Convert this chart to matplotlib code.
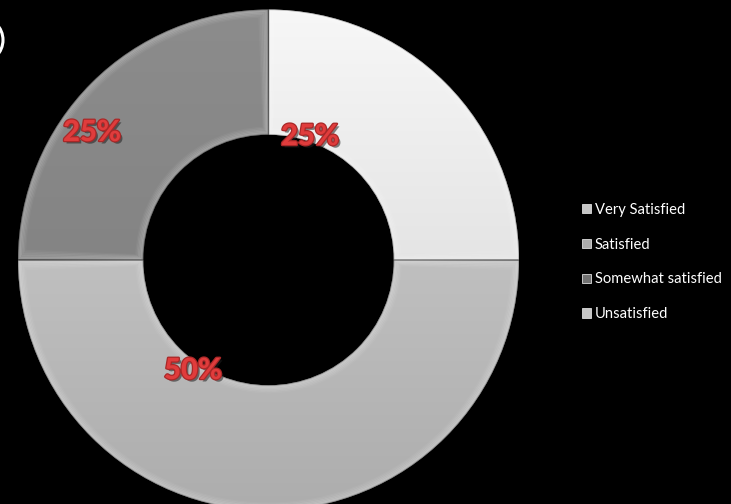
import numpy as np
import matplotlib.pyplot as plt
import matplotlib.patheffects as pe
from matplotlib.patches import Patch, Wedge, Circle
from matplotlib.colors import LinearSegmentedColormap

# Survey results
categories = ["Very Satisfied", "Satisfied", "Somewhat satisfied", "Unsatisfied"]
shares = [25, 50, 25, 0]

# Slice shading: (top colour, bottom colour) of the vertical gradient
slice_shades = [("#f7f7f7", "#d2d2d2"),
                ("#d2d2d2", "#adadad"),
                ("#8c8c8c", "#7c7c7c"),
                ("#d6d6d6", "#b8b8b8")]
legend_colors = ["#c6c6c6", "#ababab", "#727272", "#c6c6c6"]

W, H = 731, 504
fig = plt.figure(figsize=(W / 100, H / 100), dpi=100, facecolor="black")
ax = fig.add_axes([0, 0, 1, 1])
ax.set_facecolor("black")

cx, cy, R = 268.5, 244.0, 250.5
ring = R * 0.5

wedges, _ = ax.pie(shares, colors=[s[0] for s in slice_shades], startangle=90,
                   counterclock=False, center=(cx, cy), radius=R,
                   wedgeprops=dict(width=ring, edgecolor="none"))

ax.set_xlim(0, W)
ax.set_ylim(0, H)
ax.set_aspect("equal")
ax.axis("off")

# Vertical gradient clipped to each slice, plus a soft bevel rim
grad = np.linspace(0, 1, 256).reshape(-1, 1)
for w, (top, bottom), v in zip(wedges, slice_shades, shares):
    if v <= 0:
        continue
    cmap = LinearSegmentedColormap.from_list("s", [bottom, top])
    im = ax.imshow(grad, extent=(cx - R, cx + R, cy - R, cy + R), origin="lower",
                   cmap=cmap, aspect="auto", zorder=2, interpolation="bilinear")
    im.set_clip_path(w)
    # darker outer edge
    ax.add_patch(Wedge((cx, cy), R, w.theta1, w.theta2, width=ring,
                       facecolor="none", edgecolor="#000000", alpha=0.3,
                       lw=1.0, zorder=3))
    # soft light bevel made of fading inset outlines
    for k in range(5):
        inset = 1.5 + 1.4 * k
        dth = np.degrees(inset / (R - ring / 2))
        ax.add_patch(Wedge((cx, cy), R - inset, w.theta1 + dth, w.theta2 - dth,
                           width=ring - 2 * inset, facecolor="none",
                           edgecolor="white", alpha=0.16 - 0.03 * k,
                           lw=1.5, zorder=3))

# Percentage labels
label_xy = [(310, 504 - 137), (193, 504 - 371), (92, 504 - 133)]
total = sum(shares)
effects = [pe.SimplePatchShadow(offset=(1.8, -1.8), shadow_rgbFace="#202020", alpha=0.55),
           pe.Stroke(linewidth=1.8, foreground="#a82828"),
           pe.Normal()]
for (x, y), v in zip(label_xy, shares):
    ax.text(x, y, f"{v / total * 100:.0f}%", ha="center", va="center",
            fontsize=21, fontfamily="Lato", fontweight="black",
            color="#e03c3c", zorder=5, path_effects=effects)

# Small ring fragment in the corner
ax.add_patch(Circle((-20, 504 - 40), 23, fill=False, edgecolor="white", lw=2.2, zorder=4))

handles = [Patch(facecolor=c, edgecolor="#dddddd", linewidth=0.6) for c in legend_colors]
ax.legend(handles, categories, loc="center left",
          bbox_to_anchor=(582 / W, 1 - 262 / H), bbox_transform=fig.transFigure,
          frameon=False, labelcolor="white", prop={"family": "Lato", "size": 10.6},
          handlelength=0.6, handleheight=0.6, handletextpad=0.25,
          labelspacing=1.42, borderpad=0, borderaxespad=0)

fig.savefig("out.png", dpi=100, facecolor="black")
